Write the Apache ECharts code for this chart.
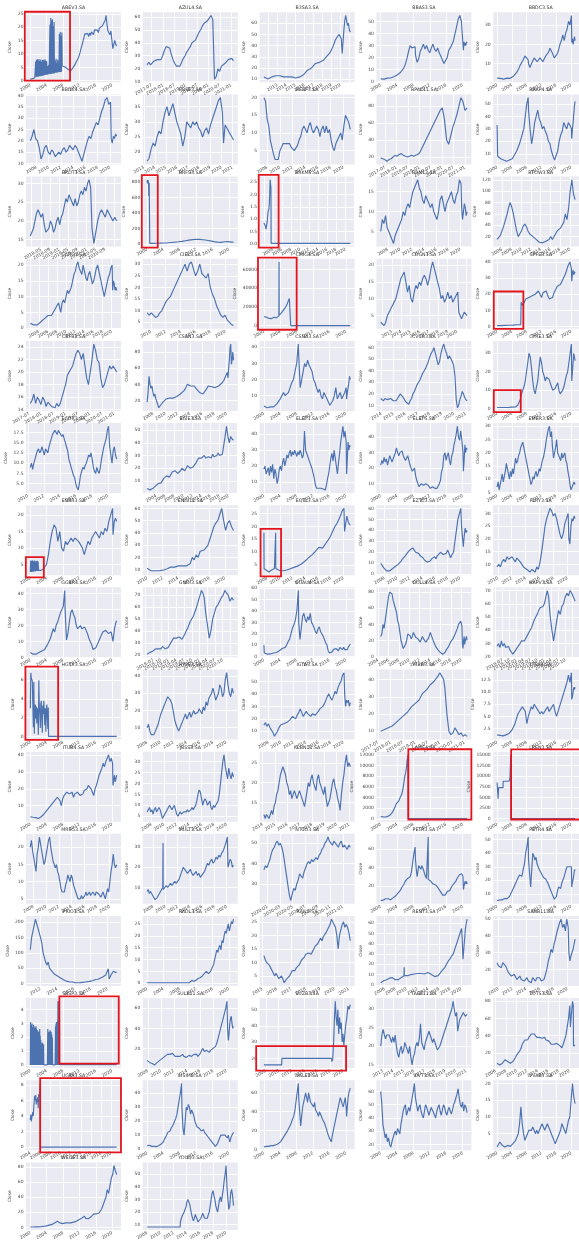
<!DOCTYPE html>
<html>
<head>
<meta charset="utf-8">
<script src="https://cdn.jsdelivr.net/npm/echarts@6/dist/echarts.min.js"></script>
<style>
  html, body { margin: 0; padding: 0; background: #ffffff; }
  #chart { width: 579px; height: 1242px; }
</style>
</head>
<body>
<div id="chart"></div>
<script>
// ---- Tickers, in panel order (5 per row) ----
const TICKERS = [
  'ABEV3','AZUL4','B3SA3','BBAS3','BBDC3',
  'BBDC4','BBSE3','BEEF3','BPAC11','BRAP4',
  'BRDT3','BRFS3','BRKM5','BRML3','BTOW3',
  'CCRO3','CIEL3','CMIG4','COGN3','CPFE3',
  'CRFB3','CSAN3','CSNA3','CVCB3','CYRE3',
  'ECOR3','EGIE3','ELET3','ELET6','EMBR3',
  'ENBR3','ENGI11','EQTL3','EZTC3','FLRY3',
  'GGBR4','GNDI3','GOAU4','GOLL4','HAPV3',
  'HGTX3','HYPE3','IGTA3','IRBR3','ITSA4',
  'ITUB4','JBSS3','KLBN11','LAME4','LREN3',
  'MRFG3','MULT3','NTCO3','PETR3','PETR4',
  'PRIO3','RADL3','RAIL3','RENT3','SANB11',
  'SBSP3','SULA11','SUZB3','TAEE11','TOTS3',
  'UGPA3','USIM5','VALE3','VIVT3','VVAR3',
  'WEGE3','YDUQ3'
];

// ---- Date tick labels ----
const TICKS_Y4 = ['2000','2004','2008','2012','2016','2020'];
const TICKS_Y2 = ['2000','2002','2004','2006','2008','2010','2012','2014','2016','2018','2020','2022'];
const TICKS_Y1 = ['2011','2012','2013','2014','2015','2016','2017','2018','2019','2020','2021'];
const TICKS_M6 = ['2017-01','2017-07','2018-01','2018-07','2019-01','2019-07','2020-01','2020-07','2021-01'];
const TICKS_M4 = ['2018-01','2018-05','2018-09','2019-01','2019-05','2019-09','2020-01','2020-05','2020-09','2021-01'];
const TICKS_M3 = ['2018-04','2018-07','2018-10','2019-01','2019-04','2019-07','2019-10','2020-01','2020-04','2020-07','2020-10','2021-01'];
const TICKS_M2 = ['2019-11','2020-01','2020-03','2020-05','2020-07','2020-09','2020-11','2021-01'];

// Date tick set used by each panel, and the step of its price ticks
const X_TICKS = [
  'Y4','M6','Y1','Y4','Y4',
  'Y2','Y1','Y2','M6','Y4',
  'M4','Y4','Y2','Y2','Y2',
  'Y2','Y2','Y4','Y1','Y4',
  'M6','Y2','Y4','Y1','Y4',
  'Y2','Y2','Y4','Y4','Y4',
  'Y4','Y2','Y2','Y2','Y2',
  'Y4','M3','Y4','Y2','M3',
  'Y4','Y2','Y2','M6','Y4',
  'Y4','Y2','Y1','Y4','Y4',
  'Y2','Y2','M2','Y4','Y4',
  'Y2','Y4','Y1','Y2','Y2',
  'Y4','Y2','Y2','Y1','Y2',
  'Y2','Y4','Y4','Y4','Y4',
  'Y4','Y2'
];
const Y_STEP = [
  5,10,10,10,10,
  5,5,5,20,10,
  5,200,0.5,5,20,
  5,5,20000,5,10,
  2,20,10,10,10,
  2.5,10,10,10,5,
  5,10,5,10,5,
  10,10,10,20,10,
  2,10,10,10,2.5,
  10,5,5,2000,2500,
  5,10,10,20,10,
  50,5,5,10,10,
  1,20,10,5,20,
  2,10,20,10,5,
  20,10
];

// ---- Close prices: segments of [start year, end year, evenly spaced closes] ----
const ABEV3 = [
  [2000.0, 2001.1, [0.6,0.7,0.7,0.8,0.9,1.0,1.1]],
  [2001.2, 2004.1, [1.3,7.2,1.4,7.8,1.5,8.0,1.5,7.6,1.6,8.1,1.7,7.4,1.7,7.9,1.8,7.0,1.9,7.7,1.9,7.8,2.0,7.5,2.1,8.0,2.1,7.6,2.2,7.3,2.2]],
  [2004.2, 2004.6, [2.3,5.5,2.4,6.0,2.4]],
  [2004.7, 2005.9, [2.5,21.0,2.5,23.5,2.6,22.5,2.6,23.0,2.7,20.5,2.7,22.0,2.8]],
  [2006.0, 2006.9, [2.9,7.5,3.0,8.2,3.0,6.5,3.1,7.8,3.2,6.0]],
  [2007.0, 2007.8, [3.2,17.5,3.3,18.2,3.3,16.8,3.4,18.0,5.5]],
  [2007.9, 2021.1, [5.4,5.5,5.2,5.0,4.7,4.5,4.2,3.9,3.6,3.5,4.2,5.0,5.5,6.2,7.0,7.6,8.3,9.2,10.5,12.0,13.2,14.6,16.0,17.5,18.2,16.8,17.6,16.5,17.9,17.0,18.3,18.0,17.2,19.0,18.4,19.3,18.9,18.0,19.6,20.0,19.2,20.5,20.0,21.2,22.5,24.4,21.0,18.6,18.1,17.2,18.6,18.9,12.0,13.6,15.1,13.6,13.0]]
];
const AZUL4 = [[2017.3, 2021.1, [23,25,23,24,26,25,27,28,27,30,34,37,38,36,31,27,24,22,23,22,25,28,30,33,35,37,40,39,42,45,48,50,53,55,54,57,59,61,58,12,14,20,18,22,21,24,25,27,26,28,26]]];
const B3SA3 = [
  [2011.5, 2020.1, [12,11,10,11,12,12,13,14,13,13,12,11,12,13,12,11,11,12,12,13,14,16,18,19,20,22,24,23,25,26,27,29,31,33,36,40,45,48,50,46]],
  [2020.2, 2021.1, [33,44,55,63,67,62,58,60,54,52]]
];
const BBAS3 = [
  [2000.0, 2008.4, [2.2,2.5,2.0,2.4,2.8,2.6,2.9,3.5,4.0,4.8,5.5,6.5,7.5,9,11,14,19,25,30,28,27,29]],
  [2008.5, 2020.1, [22,16,19,25,28,31,27,30,26,24,28,31,27,25,28,24,21,18,15,14,20,26,28,29,34,40,46,52,55,50,49]],
  [2020.2, 2021.1, [26,33,30,32,30,33,32]]
];
const BBDC3 = [
  [2000.0, 2008.4, [2.5,2.3,2.4,2.2,2.0,2.3,2.5,2.2,2.4,3.0,3.5,4.5,5.5,7,9,10,12,14,13,12]],
  [2008.5, 2020.1, [10,8,10,11,13,12,11,12,13,12,11,12,14,13,16,18,17,15,13,12,15,17,20,22,25,22,26,28,32,30,35]],
  [2020.2, 2021.1, [21,23,20,22,24,22]]
];
const BBDC4 = [
  [2007.0, 2020.1, [20,22,25,21,20,17,12,14,17,18,15,14,16,15,13,14,15,14,16,17,15,16,18,17,16,18,17,15,13,11,14,17,20,22,21,24,26,28,27,30,33,35,38,39,36,37]],
  [2020.2, 2021.1, [21,19,22,21,23,22]]
];
const BBSE3 = [
  [2013.3, 2020.1, [17,18,21,23,22,25,27,26,30,33,35,32,34,36,33,30,28,26,22,25,30,29,28,30,29,30,28,27,25,27,28,26,29,31,33,35,37,38,33]],
  [2020.2, 2021.1, [23,29,28,27,26,25,24]]
];
const BEEF3 = [[2007.5, 2021.1, [20,19,14,12,8,7.5,4,2.5,2,2.5,5,6,7,7.5,7,6.5,7,6,5.5,5,5.5,6.5,8,9,11,12,11,10,12,13,11,10,11,12,11,9,11,12,10,12,10,11,8,6,5,7,8,9,10,8,12,15,14,13,11]]];
const BPAC11 = [
  [2017.3, 2020.1, [19,18,17,15,17,18,20,22,21,23,24,22,21,20,21,22,21,22,23,25,30,35,40,45,50,55,60,65,70,75,78,65]],
  [2020.2, 2021.1, [40,35,45,55,62,70,80,90,85,75,78]]
];
const BRAP4 = [
  [2000.0, 2000.15, [33,8]],
  [2000.2, 2008.4, [7.5,7,6,5.5,5,4.5,4,4.5,5,5.5,6,8,10,12,15,18,22,26,30,40,50,55]],
  [2008.5, 2020.1, [45,30,18,25,35,40,45,38,35,30,32,28,25,20,18,12,8,5,6,12,20,25,28,35,32,30,35,33,30]],
  [2020.2, 2021.1, [22,30,35,42,48,52]]
];
const BRDT3 = [
  [2017.95, 2020.15, [16,17,18,20,22,23,22,21,22,19,17,16.5,18,20,19,17,18,20,21,19,21,22,24,26,25,27,26,25,24,26,24,25,27,28,27,29,28,30,31,29]],
  [2020.2, 2021.1, [18,14,17,20,22,23,22,21,23,22,21,20,21,20]]
];
const BRFS3 = [
  [2000.0, 2000.6, [820,790,830,810,780,825,800,760,620,700,790,810,800]],
  [2000.65, 2021.1, [5,6,6,7,7,8,9,10,11,12,13,15,17,19,21,23,26,29,32,36,40,44,48,52,55,57,59,60,58,56,53,50,46,42,38,33,28,25,22,20,19,22,26,32,28,24,22,21]]
];
const BRKM5 = [
  [2002.0, 2003.55, [0.85,0.8,0.9,0.75,0.7,0.6,0.65,0.55,0.9,1.1,1.3,1.25,1.4,1.6,2.0,2.6,2.55,2.3]],
  [2003.6, 2021.1, [0.02,0.02]]
];
const BRML3 = [
  [2006.8, 2020.1, [5,8,7,9,6,5,4,3,2,4,5,6,7,8,10,9,11,12,11,13,15,16,17,18,16,15,13,12,14,13,12,11,12,10,9,8,10,13,14,12,10,12,13,14,15,13,12,14,15,18,17]],
  [2020.2, 2021.1, [11,8,10,12,11,9,10]]
];
const BTOW3 = [[2005.0, 2021.1, [15,18,22,30,38,48,58,70,80,72,60,45,30,20,25,30,38,42,38,30,25,22,20,18,15,12,10,8,9,10,12,10,15,20,15,18,25,30,28,35,40,45,60,50,70,100,120,95,85]]];
const CCRO3 = [
  [2002.1, 2008.7, [1.5,1.2,1.0,0.8,1.0,1.5,2,2.5,3,3.5,4,3.5,4,5,6,7,8,7.5]],
  [2008.8, 2020.1, [5,8,9,8,10,12,11,12,13,15,17,18,20,21,19,18,17,20,18,16,15,17,18,16,14,15,17,19,20,18,16,14,12,10,12,14,16,17,19,20]],
  [2020.2, 2021.1, [12,15,14,12,13,12]]
];
const CIEL3 = [[2009.5, 2021.1, [9,8,9,8,7,7.5,9,10,12,14,15,16,18,20,22,24,26,28,30,27,30,31,28,25,27,30,26,25,24,26,20,17,15,12,10,8,7,8,6,5,4,3.5]]];
const CMIG4 = [
  [2000.0, 2003.65, [9500,9000,8500,9200,8000,8700,7800,8200,8800,7500,8000,8500,9000,8200,7600,8300,8900,9500,10500]],
  [2003.7, 2003.72, [68000,11000]],
  [2003.75, 2006.5, [11000,12500,13000,12000,14000,15000,14500,16000,17500,17000,19000,20000,21000,22500,24000,26000,27500,29000,30500,28000]],
  [2006.55, 2021.1, [150,150]]
];
const COGN3 = [
  [2011.8, 2020.1, [3,2.5,2,3,5,6,7,8,9,10,12,14,16,17,18,15,12,14,10,9,12,14,13,15,14,16,17,16,14,16,19,21,19,17,15,13,10,11,9,10,12,10,11,9,10,11,12]],
  [2020.2, 2021.1, [6,5,4,5,6,5.5,5]]
];
const CPFE3 = [
  [2000.0, 2006.4, [0.6,0.7,0.6,0.8,0.7,0.9,0.8,1.0,0.9,1.0,1.1,1.0,1.2]],
  [2006.5, 2020.1, [15,13,15,17,16,18,17,19,18,20,19,22,20,18,21,20,22,19,17,16,18,21,23,25,24,26,28,27,32,35,38,40,36]],
  [2020.2, 2021.1, [28,33,35,32,34,33]]
];
const CRFB3 = [[2017.55, 2021.1, [15,15.5,16.5,15,16,15.5,14.8,16,15.5,14.5,15.2,15,14.5,14.8,14.3,15,14.5,15,16,17,18,19.5,20,20.5,21,22,23,23.5,23,22,23,21,19,18,20,22,24.5,23.5,22,21.5,19,17.5,18,19,20,21,20.5,21,20.5,20]]];
const CSAN3 = [
  [2007.0, 2008.9, [18,30,50,40,35,38,30,25,28,22,20,15,11]],
  [2009.0, 2020.1, [13,15,18,20,22,21,23,25,23,22,25,24,28,30,32,35,40,42,38,36,38,35,33,30,32,28,30,34,38,40,37,38,36,35,38,40,42,45,50,55]],
  [2020.2, 2021.1, [48,60,70,85,90,65,70,80,70]]
];
const CSNA3 = [
  [2000.0, 2008.4, [3.5,3,2.5,2.5,3,2.8,3,4,5,6,8,10,12,10,11,12,15,18,20,25,30,42]],
  [2008.5, 2020.1, [35,15,20,25,30,28,32,29,30,25,20,18,15,12,14,10,8,12,10,8,6,4,5,7,10,15,8,10,12,8,10,12,15]],
  [2020.2, 2021.1, [8,12,15,18,22,20]]
];
const CVCB3 = [
  [2013.95, 2020.1, [16,15,14,16,17,15,14,16,15,14,15,14,16,18,20,19,17,15,13,12,11,14,16,20,22,25,28,30,32,35,38,40,42,45,48,52,55,57,60,55,50,45,48,55,60,63,58,55,50,53,52,48,45,35]],
  [2020.2, 2021.1, [15,8,10,15,18,22,20,17,15,14]]
];
const CYRE3 = [
  [2000.0, 2005.5, [0.6,0.5,0.6,0.7,0.6,0.5,0.6,0.7,0.8,0.7,0.9,1.0]],
  [2005.6, 2020.1, [2,3,5,8,9,12,15,20,25,30,28,22,15,10,8,12,15,22,28,25,20,18,15,17,18,16,14,12,10,9,11,12,14,10,8,9,10,12,15,18,20,25,30,35]],
  [2020.2, 2021.1, [15,20,25,30,28,26]]
];
const ECOR3 = [[2010.3, 2021.1, [9,10,8.5,10,11,12,13,13.5,12.5,13,14,13,12,13.5,13,12.5,14,15,16,17,17.5,18,17.5,17,18,17.5,17,16.5,17,16,15,14,13,11,10,9,8,7,6.5,5,4,3.5,5,7,8,9,8.5,9.5,10,11,12,11.5,12.5,11,9,8,7.5,9,8,7.5,9,11,12.5,14,15,16,18,19,14,12,10,13,14,12,11]]];
const EGIE3 = [[2002.0, 2021.1, [4,3.5,3,3,4,5,6,7,8,9,8.5,10,12,13,14,15,13,14,17,16,18,17,16,15,18,20,19,18,20,22,21,20,19,21,22,24,26,28,27,28,29,30,28,27,29,30,28,31,29,28,30,32,30,29,31,38,45,53,45,40,45,43,42]]];
const ELET3 = [
  [2000.0, 2020.1, [18,20,15,17,19,14,20,16,21,12,18,15,9,12,18,20,17,22,25,20,23,27,25,28,30,26,29,27,30,28,26,29,27,30,28,25,27,42,30,28,26,24,22,20,18,15,12,8,6,5.5,6,5,6,7,5.5,6.5,5,8,12,15,20,25,28,23,30,25,20,15,22,28,35,40,45,38,42,35]],
  [2020.2, 2021.1, [15,25,35,30,33,32]]
];
const ELET6 = [
  [2000.0, 2020.1, [22,25,23,27,24,26,22,25,28,26,24,25,28,30,33,30,28,30,29,31,28,27,25,26,28,25,22,20,18,17,20,15,12,10,8,9,10,11,9,8,10,11,9,8,7,6,8,9,7,8,7,8,10,12,18,20,28,30,25,28,30,25,22,28,30,35,38,42,47,40,38,44,38,30]],
  [2020.2, 2021.1, [18,25,35,30,33,32]]
];
const EMBR3 = [[2000.0, 2021.1, [7,9,6,8,10,12,9,11,13,16,14,12,10,13,11,14,12,15,18,16,17,19,20,22,23,24,22,20,18,16,14,12,10,8,9,11,10,12,13,11,12,14,13,15,17,18,20,22,25,27,29,30,26,28,22,18,20,22,25,20,19,18,17,20,18,19,20,17,16,13,11,8,6,7,8,9,8]]];
const ENBR3 = [
  [2000.0, 2002.0, [2.7,6.2,2.8,6.0,2.7,6.3,2.9,5.9,2.8,6.1,3.0,6.2,2.9,5.8,3.0,6.0,3.1,6.1,3.0,5.9,3.2]],
  [2002.1, 2003.4, [3.3,3.5,3.2,3.4,3.6,3.5]],
  [2003.5, 2020.1, [4,5,8,12,15,17,16,12,15,10,9,12,11,12,13,12,13,12.5,12,11,10,8,10,12,11,13,14,15,14,13,15,14,16,15,18,20,22]],
  [2020.2, 2021.1, [14,18,19,18]]
];
const ENGI11 = [[2010.0, 2021.1, [11,10,9,8.5,9,8,9,10,9.5,10,10.5,11,12,11,12,11.5,13,12,13,12,13,14,15,20,18,22,20,25,24,26,28,30,35,40,45,48,50,55,60,50,42,48,50,45,42]]];
const EQTL3 = [
  [2007.5, 2007.52, [17.5,3.5]],
  [2007.55, 2009.3, [3.5,3.2,3.0,2.6,2.3,2.2,2.5,2.8,3.0,3.3,3.5,3.6,3.8]],
  [2009.35, 2009.37, [17.5,3.6]],
  [2009.4, 2020.1, [3.5,3.2,2.8,2.6,2.7,2.9,3.0,3.2,3.5,3.7,4.0,4.2,4.5,4.8,5.2,5.8,6.3,7.0,7.6,8.2,8.8,9.5,10.2,11.0,11.8,12.3,11.5,12.5,13.5,14.2,15.5,17,18.5,20,21,22.5,24,26,27]],
  [2020.2, 2021.1, [18,21,24,22,21,20.5]]
];
const EZTC3 = [
  [2007.4, 2020.1, [10,8,6,5,3,2,3,4,5,6,7,8,9,10,12,14,15,17,19,20,22,21,24,22,20,21,19,17,16,15,13,12,11,10,12,14,13,16,14,17,18,20,19,18,17,19,22,21,15,18,20,30,40,50,55,60]],
  [2020.2, 2021.1, [45,35,25,35,42,38,40]]
];
const FLRY3 = [
  [2009.9, 2020.1, [9,10,9,11,12,11,13,12,11.5,13,12,11,12.5,12,11,10,9,8.5,8,7.5,7,8,7.5,7,9,8,11,15,20,25,28,30,32,31,29,30,28,25,22,20,22,26,28,30]],
  [2020.2, 2021.1, [20,18,25,28,27,29,28]]
];
const GGBR4 = [
  [2000.0, 2008.4, [3,2.5,2,2.5,2,2.2,3,3.5,4,4.5,5,6,8,10,12,15,18,16,20,22,25,28,30,32,42]],
  [2008.5, 2020.1, [30,11,15,22,28,30,27,25,20,18,17,20,18,17,19,18,15,12,10,8,5,4,6,8,10,12,14,16,15,17,16,15,14,16,17]],
  [2020.2, 2021.1, [10,14,18,20,22,23]]
];
const GNDI3 = [
  [2018.3, 2020.15, [20.5,21,22,21.5,23,24,25,24,25,26,25,27,26,25,24,26,28,30,32,34,33,34,33,35,34,33,35,37,40,42,45,48,50,52,55,58,62,66,70,74,72,68]],
  [2020.2, 2021.1, [55,45,34,40,50,55,60,62,65,68,70,74,72,70,65,68,66]]
];
const GOAU4 = [
  [2000.0, 2000.1, [10,3]],
  [2000.2, 2008.4, [3,2.5,2,2,2.2,2.5,3,3.2,3.5,4,5,6,7,6,8,10,13,15,20,25,28,32,40,58]],
  [2008.5, 2020.1, [30,15,25,35,38,33,30,35,32,38,30,28,25,22,20,24,26,22,20,18,15,12,10,5,3,2,4,6,5,7,6,5,8,7,6,8,6,7]],
  [2020.2, 2021.1, [5,6,8,9,8,11]]
];
const GOLL4 = [
  [2004.5, 2020.1, [25,28,40,35,45,55,65,75,80,82,78,70,72,60,55,45,40,30,20,15,10,12,15,20,28,30,26,22,25,30,28,24,26,22,20,18,20,25,22,20,18,20,22,25,30,28,22,18,15,12,10,8,6,5,4,3,4,5,8,10,12,15,18,20,22,25,28,30,35,40,42,44,38]],
  [2020.2, 2021.1, [15,10,20,25,15,20,22,25,20]]
];
const HAPV3 = [
  [2018.3, 2020.1, [28,30,27,32,28,30,27,26,28,25,24,22,23,25,27,28,30,32,33,32,34,36,38,40,42,45,48,50,52,55,57,56,58,60,65,70]],
  [2020.15, 2021.1, [65,50,40,32,40,48,55,52,58,60,65,68,66,70,68,65,62]]
];
const HGTX3 = [
  [2000.0, 2004.4, [3,6.8,6.2,6.3,5.9,6.1,1.0,5.8,0.3,2.8,3.4,1.9,3.2,1.4,3.0,2.6,0.2,6.0,3.2,2.4,0.9,3.5,3.8,1.8,0.4,3.3,2.4,3.8,3.6,1.2,3.0,0.5,2.7,3.4,2.2,0.8,3.1]],
  [2004.45, 2021.1, [0.02,0.02]]
];
const HYPE3 = [[2008.0, 2021.1, [10,12,8,6,5,6,8,10,12,15,18,20,22,24,25,28,29,26,24,20,15,12,10,8,10,12,14,16,18,15,17,19,16,18,20,18,17,19,21,20,18,22,20,25,23,27,28,30,33,30,26,28,30,35,33,28,30,38,42,35,30,28,33,30]]];
const IGTA3 = [
  [2007.3, 2020.1, [15,17,14,16,13,11,9,6,8,10,13,15,14,16,15,17,18,19,20,22,21,20,23,25,28,25,22,24,26,24,23,22,24,25,23,24,26,28,27,30,32,35,38,40,37,35,38,42,40,45,48,50,55,57]],
  [2020.2, 2021.1, [40,30,35,33,35,30,33]]
];
const IRBR3 = [
  [2017.6, 2020.15, [10,10.5,11,11.5,12,12.5,13,14,15,16,17,18,19,20,21,22,24,25,26,27,28,30,32,33,34,35,37,38,39,40,42,44,42,40]],
  [2020.2, 2021.1, [35,20,10,8,9,12,10,8,9,7,8,7]]
];
const ITSA4 = [
  [2000.0, 2020.1, [1.2,1.0,1.1,0.9,1.0,1.1,1.2,1.3,1.5,1.8,2.2,2.8,3.5,4.5,5.5,6,6.5,7,6.5,6,3.5,5,6,7,6.5,7.5,7,6.5,6,5.5,6,5.5,6,6.5,7,6,6.5,7,7.5,6,5,6,7,8,9,10,11,12,13.5,12,14]],
  [2020.2, 2021.1, [8.5,9,10,11,10.5,11]]
];
const ITUB4 = [
  [2000.0, 2020.1, [3.5,3,3.2,3.5,3,2.8,2.5,3,3.5,4,5,6,7,8,9,10,11,12,13,14,15,16,13,10,14,16,17,18,19,17,16,18,15,17,16,18,17,16,15,17,19,18,20,22,21,20,18,16,20,22,25,28,30,32,35,33,36,38,40,36,38,35]],
  [2020.2, 2021.1, [22,25,28,24,26,28]]
];
const JBSS3 = [[2007.3, 2021.1, [7,8,9,7,8,6,8,9,7,8,9,8,6,4,5,6,7,8,9,10,9,8,9,10,8,6,5,6,7,6,6.5,7,6.5,7,8,7,7.5,8,9,8,8.5,10,12,15,17,16,13,10,12,13,12,10,11,12,9,8,10,9,10,11,12,15,20,25,30,33,28,25,22,27,24,22,25,23]]];
const KLBN11 = [[2014.1, 2021.1, [12,11,12,11.5,11,12,13,12,14,15,17,18,20,22,23,24,23,22,20,19,17,18,16,17,18,17,16,17,18,17,16,15,14,16,18,20,19,21,22,20,19,18,21,22,20,19,18,17,19,16,14,15,16,18,20,21,19,18,16,15,13,17,20,22,25,27,24,25,24]]];
const LAME4 = [
  [2000.0, 2006.65, [420,400,380,350,320,300,330,360,400,450,520,600,700,850,1000,1200,1500,1800,2000,2400,2800,3100,2900,3300,3600,4000,3800,4600,5200,6000,7000,8000,8600,9500,11000,12000]],
  [2006.7, 2021.1, [60,60]]
];
const LREN3 = [
  [2000.0, 2000.4, [8500,8200,4700,7300]],
  [2000.45, 2001.6, [7300,7300]],
  [2001.65, 2003.2, [8800,8800]],
  [2003.25, 2003.7, [9200,9500,15000]],
  [2003.75, 2021.1, [60,60]]
];
const MRFG3 = [[2007.5, 2021.1, [20,22,19,17,15,13,18,20,23,21,19,17,15,16,18,20,22,23,20,18,16,15,14,15,13,12,10,8,7,6.5,7,9,10,12,11,10,12,11,9,8,7,6,5,4.5,5,6,5,5.5,6,7,6,6.5,7,6,6.5,7,6.5,6,7,7.5,6.5,6,5.5,6,7,6,5,6.5,8,7,10,13,15,18,15,14,15]]];
const MULT3 = [
  [2007.0, 2009.55, [8,9,7,8,7,6,5,4,3.5,5,6,7,8,9,10]],
  [2009.6, 2009.62, [32,10]],
  [2009.65, 2020.1, [9,10,11,10,11,12,11,12,13,12,13,14,16,18,20,19,18,17,18,19,17,16,17,18,16,17,15,16,17,18,20,22,21,23,24,22,23,25,24,26,25,27,28,30,32,35]],
  [2020.2, 2021.1, [20,22,24,23,20,21]]
];
const NTCO3 = [[2019.95, 2021.1, [37,39,38,40,42,45,47,48,50,51,49,50,48,45,40,35,30,25,22,25,28,27,30,32,35,34,33,36,38,40,41,40,42,41,42,43,42,44,45,47,48,50,51,53,51,50,49,51,50,49,48,50,51,48,49,48,47,49,48]]];
const PETR3 = [
  [2000.0, 2008.4, [4,5,4.5,5,6,5.5,6,5.5,5,6,7,8,9,10,12,14,15,18,20,22,25,24,28,26,30,35,45,55,62]],
  [2008.5, 2011.55, [48,38,30,35,42,44,40,38,42,40,38,35,32,30,28,30,27]],
  [2011.6, 2011.62, [73,27]],
  [2011.65, 2020.1, [28,27,25,24,22,23,21,20,18,16,14,12,10,8,10,12,14,16,15,18,20,22,24,25,28,30,32,31,33,30]],
  [2020.2, 2021.1, [16,18,22,25,24,22,25,22]]
];
const PETR4 = [
  [2000.0, 2008.4, [5,6,5.5,6,5.5,6,6.5,6,6.5,7,8,10,12,14,16,18,20,22,24,25,23,28,32,40,45,52]],
  [2008.5, 2020.1, [35,25,15,28,40,38,35,37,32,30,28,27,25,24,22,23,21,20,18,16,14,12,10,8,6,5,8,12,15,16,14,18,20,22,25,28,30,29,30,31,30]],
  [2020.2, 2021.1, [15,18,20,22,25,28,27]]
];
const PRIO3 = [
  [2010.8, 2020.1, [110,150,170,190,210,195,180,165,150,130,100,85,70,60,70,50,45,40,35,30,28,25,22,20,18,15,12,10,8,7,6,5,6,5,4,3,3,2.5,2.5,3,3,4,4.5,5,5.5,6,7,8,9,10,12,13,15,14,16,18,20,22,25,28,32,48]],
  [2020.2, 2021.1, [15,22,30,35,40,38,36,38]]
];
const RADL3 = [
  [2000.0, 2010.3, [0.2,0.2]],
  [2010.4, 2021.1, [0.5,1.0,1.2,1.0,0.8,1.0,1.2,1.5,2.0,2.5,2.3,2.8,3.0,3.5,4.0,4.5,5.0,4.5,4.0,4.2,5.0,6.0,7.0,8.0,10,12,14,13,15,16,14,18,17,20,22,21,23,25,22,24,26,25,27]]
];
const RAIL3 = [[2015.1, 2021.1, [12.5,11,10,10.5,9,8,7,6.5,5,6,5,4,3.5,5,4,2.5,3,4,4.5,5,6,7,7.5,7,8,8.5,9,10,11,11.5,12,13,12.5,13.5,14,13,14,15,16,15.5,17,18,19,18,19.5,20,21,22,23,24,26,25,24,23,20,15,20,22,24,25,23,24,23,21,18]]];
const RENT3 = [
  [2005.3, 2009.55, [2,3,4,4.5,5,6,6.5,7,7,6,5,4,5,6,7,8,8.5]],
  [2009.6, 2009.62, [17,9]],
  [2009.65, 2020.1, [9,8,9,9.5,10,10,10.5,11,11,10.5,11,11,10.5,11,12,11,10,9,8,7.5,9,11,13,15,17,20,23,25,28,30,35,40,45,50,55]],
  [2020.2, 2021.1, [45,25,35,45,55,60,64]]
];
const SANB11 = [
  [2009.8, 2020.1, [24,22,23,21,24,25,22,20,18,17,16,15,17,16,14,15,16,14,15,13,14,15,13,14,12,15,14,13,15,16,15,13,12,14,17,20,25,28,32,30,35,38,42,45,48,50,45,47,43,50,45]],
  [2020.2, 2021.1, [30,25,28,30,32,35,38]]
];
const SBSP3 = [
  [2000.0, 2001.4, [0,3.1,0,2.9,0,2.8,0,3.0,0,2.7,0,2.6,0,2.9,0,2.8,0,2.5,0,2.7,0,2.6,0,2.8]],
  [2001.45, 2002.75, [0,2.6,0,2.3,0,2.5,0,2.2,0,2.4,0,2.0,0,2.6,0,2.1,0,1.8,0,1.6,0]],
  [2002.8, 2003.3, [0,1.3,0,1.6,0,1.4,0,1.5,0]],
  [2003.35, 2004.15, [0,0]],
  [2004.2, 2005.45, [0,2.6,0,2.3,0,2.4,0,2.2,0,2.5,0,2.3,0,2.4,0,2.2,0,2.0,0]],
  [2005.5, 2006.05, [0,0]],
  [2006.1, 2006.65, [0,2.8,0,3.0,0,3.1,0,2.9,0,3.2]],
  [2006.7, 2007.1, [0,4.6,0,4.6,0,4.5,0,4.6,0,4.6]],
  [2007.15, 2021.1, [0.02,0.02]]
];
const SULA11 = [
  [2007.9, 2020.1, [8,7,6,7.5,5,4,3.5,5,6,7,8,9,10,11,12,13,14,15,14,13,15,14,12,13,12,11,12,13,14,12,13,11,12,13,14,12,13,14,15,14,12,13,15,18,20,17,16,18,17,16,18,19,20,21,22,25,30,35,40,45,50,55,60,67]],
  [2020.2, 2021.1, [40,28,35,45,50,52,45,40,42]]
];
const SUZB3 = [
  [2007.7, 2010.45, [16,16]],
  [2010.5, 2018.2, [20,20]],
  [2018.25, 2020.1, [18,20,30,45,55,45,40,50,35,45,38,42,30,35,28]],
  [2020.2, 2021.1, [27,40,45,52,50,53]]
];
const TAEE11 = [
  [2012.8, 2020.1, [20,23,24.5,23,22,23,22.5,23,22,21,22.5,21,23,20,18,17,19,20,18,19,21,20,19,18,20,17,15,17,18,20,21,20,22,26,21,20,19,21,22,23,24,23,22,21,22,21,20,19,18.5,20,21,22,23,24,25,26,27,28,29,30,32,30,28,29]],
  [2020.2, 2021.1, [24,27,28,29,28,28.5]]
];
const TOTS3 = [
  [2006.3, 2020.1, [8,7,6,7,8,10,12,11,10,9,8,7,10,12,15,18,20,22,25,30,32,35,33,35,38,40,42,44,42,40,38,36,38,40,37,36,38,35,33,34,32,30,28,30,32,31,30,29,28,26,30,35,40,50,60,75]],
  [2020.2, 2020.75, [50,60,70,80,75]],
  [2020.8, 2021.1, [28,30,27,29]]
];
const UGPA3 = [
  [2004.0, 2005.95, [3.5,4.2,3.3,3.8,4.0,4.5,4.0,5.2,6.0,6.6,6.0,6.7,5.5,6.2,5.8,6.4,5.0,6.8,7.0,6.5,8.2]],
  [2006.0, 2021.1, [0.02,0.02]]
];
const USIM5 = [
  [2000.0, 2008.4, [2.5,3,2.8,2.5,2,2.2,2,1.5,1.8,2,2.5,3,3.5,4,5,7,8,10,12,11,13,15,14,18,20,22,25,30,35,40,47]],
  [2008.5, 2020.1, [30,15,10,20,30,28,32,30,25,28,26,24,20,18,16,17,15,14,13,12,14,12,11,10,9,8,7,6,5,4,3,2,3,4,6,8,10,9,10,11,10,9,8,10,11]],
  [2020.2, 2021.1, [5,7,9,10,11,12]]
];
const VALE3 = [
  [2000.0, 2008.4, [2.5,3,3.2,3.5,3.2,3.5,4,3.5,4,4.5,5,5.5,6,7,8,10,12,14,16,18,20,22,25,28,30,35,40,50,60,70]],
  [2008.5, 2020.1, [55,40,25,35,45,50,55,60,55,50,60,55,50,52,48,45,50,42,40,38,35,40,38,35,32,30,28,25,22,18,15,12,10,8,15,20,25,30,35,40,45,50,55,52,48,45,50,55,45]],
  [2020.2, 2021.1, [35,45,55,60,62,65]]
];
const VIVT3 = [[2000.0, 2021.1, [60,50,35,30,25,28,22,25,20,18,22,25,28,30,27,32,30,28,35,40,45,48,50,42,45,48,45,50,55,60,66,55,50,45,48,50,45,42,40,45,50,48,45,42,45,48,46,44,42,40,45,48,50,45,42,46,50,48,44,42,46,48,45,43,46,50,52,55,58,62,55,50,48,52,45,50,48,44]]];
const VVAR3 = [[2000.0, 2021.1, [1,1.2,2.5,2,1.5,1.2,1.0,1.2,1.5,1.0,1.2,1.5,2,2.2,3,4,5,8,13,8,5,3,4,5,6,5.5,6,7,6,5,6,5,6,7,8,7,6,7,8,7,6,5,4,3,2,3,4,5,6,8,7,6,5,7,9,10,15,20,16,14]]];
const WEGE3 = [[2000.0, 2021.1, [0.5,0.6,0.5,0.6,0.7,0.8,0.8,0.9,1.0,1.2,1.5,1.8,2,2.5,3,3.5,4,5,6,7,8,7,6,4,5,5,6,6.5,6,5.5,6,6.5,7,7.5,8,9,10,11,12,14,15,12,11,11.5,12,14,16,18,17,18,20,19,21,25,30,35,40,50,45,55,65,70,82,75,70]]];
const YDUQ3 = [
  [2008.0, 2013.0, [8,8]],
  [2013.05, 2021.1, [12,15,17,18,20,22,24,28,30,28,26,22,18,15,13,15,18,16,14,12,11,13,15,17,19,18,15,14,16,15,18,20,25,30,35,37,33,30,25,22,20,25,30,32,28,33,38,45,50,57,40,30,22,25,35,38,33,25]]
];

// Highlight boxes: ticker, date from, date to, close from, close to
const BOXES = [
  ['ABEV3', 1998.65, 2009.7, 0.05, 25.8],
  ['BRFS3', 1998.7, 2002.6, -50, 890],
  ['BRKM5', 2000.85, 2005.25, -0.15, 2.8],
  ['CMIG4', 1998.55, 2008.0, -4300, 72500],
  ['CPFE3', 1999.1, 2007.1, -1.5, 21.7],
  ['CYRE3', 1999.1, 2006.4, -1.9, 10],
  ['ENBR3', 1998.9, 2003.3, 1.1, 7.2],
  ['EQTL3', 2006.97, 2010.2, 0.5, 19],
  ['HGTX3', 1998.8, 2006.8, -0.35, 7.45],
  ['LAME4', 2006.75, 2022.15, -150, 13050],
  ['LREN3', 2003.8, 2030, -185, 16300],
  ['SBSP3', 2007.1, 2021.6, 0.1, 4.95],
  ['SUZB3', 2006.5, 2020.45, 12.5, 27.5],
  ['UGPA3', 2005.95, 2021.95, -0.65, 8.87]
];

const SERIES = {
  ABEV3, AZUL4, B3SA3, BBAS3, BBDC3, BBDC4, BBSE3, BEEF3, BPAC11, BRAP4,
  BRDT3, BRFS3, BRKM5, BRML3, BTOW3, CCRO3, CIEL3, CMIG4, COGN3, CPFE3,
  CRFB3, CSAN3, CSNA3, CVCB3, CYRE3, ECOR3, EGIE3, ELET3, ELET6, EMBR3,
  ENBR3, ENGI11, EQTL3, EZTC3, FLRY3, GGBR4, GNDI3, GOAU4, GOLL4, HAPV3,
  HGTX3, HYPE3, IGTA3, IRBR3, ITSA4, ITUB4, JBSS3, KLBN11, LAME4, LREN3,
  MRFG3, MULT3, NTCO3, PETR3, PETR4, PRIO3, RADL3, RAIL3, RENT3, SANB11,
  SBSP3, SULA11, SUZB3, TAEE11, TOTS3, UGPA3, USIM5, VALE3, VIVT3, VVAR3,
  WEGE3, YDUQ3
};
const TICK_SETS = { Y4: TICKS_Y4, Y2: TICKS_Y2, Y1: TICKS_Y1, M6: TICKS_M6, M4: TICKS_M4, M3: TICKS_M3, M2: TICKS_M2 };

// ---- Layout of the 5-column grid of small panels ----
const COL_X0 = 26, COL_DX = 116.8, PLOT_W = 95;
const ROW_Y0 = 12.3, ROW_DY = 82.15, PLOT_H = 70;
const FONT = 'DejaVu Sans';
const TICK_FONT = 4.5;

function toYear(label) {
  const parts = label.split('-');
  return +parts[0] + (parts[1] ? (+parts[1] - 1) / 12 : 0);
}
function buildPoints(segs) {
  const pts = [];
  segs.forEach(([a, b, vals]) => {
    const n = vals.length;
    vals.forEach((v, i) => pts.push([n > 1 ? a + (b - a) * i / (n - 1) : a, v]));
  });
  return pts;
}
function decimalsOf(step) {
  const s = String(step);
  return s.includes('.') ? s.split('.')[1].length : 0;
}
function textWidth(str) {
  let w = 0;
  for (const ch of str) w += (ch === '.' ? 0.318 : ch === '-' ? 0.361 : 0.636);
  return w * TICK_FONT;
}

const chart = echarts.init(document.getElementById('chart'), null, { renderer: 'canvas', width: 579, height: 1242 });

const grids = [], xAxes = [], yAxes = [], series = [], panelBoxes = [];

TICKERS.forEach((name, i) => {
  const c = i % 5, r = Math.floor(i / 5);
  const left = COL_X0 + c * COL_DX, top = ROW_Y0 + r * ROW_DY;
  panelBoxes.push({ left, top });

  const pts = buildPoints(SERIES[name]);
  const xs = pts.map(p => p[0]), ys = pts.map(p => p[1]);
  const x0 = Math.min(...xs), x1 = Math.max(...xs);
  const y0 = Math.min(...ys), y1 = Math.max(...ys);
  const xLo = x0 - 0.05 * (x1 - x0), xHi = x1 + 0.05 * (x1 - x0);
  const yLo = y0 - 0.05 * (y1 - y0), yHi = y1 + 0.05 * (y1 - y0);

  const labelOf = {};
  const xTickVals = [];
  TICK_SETS[X_TICKS[i]].forEach(l => {
    const v = toYear(l);
    if (v >= xLo && v <= xHi) { xTickVals.push(v); labelOf[v.toFixed(4)] = l; }
  });

  const step = Y_STEP[i], dec = decimalsOf(step);
  const yTickVals = [];
  for (let k = Math.ceil(yLo / step); k * step <= yHi + 1e-9; k++) yTickVals.push(+(k * step).toFixed(6));
  const maxLabelW = Math.max(...yTickVals.map(v => textWidth(v.toFixed(dec))));

  grids.push({
    left, top, width: PLOT_W, height: PLOT_H,
    show: true, backgroundColor: '#EAEAF2', borderWidth: 0, containLabel: false
  });
  xAxes.push({
    type: 'value', gridIndex: i, min: xLo, max: xHi,
    axisLine: { show: false },
    axisTick: { show: false, customValues: xTickVals },
    splitLine: { show: true, lineStyle: { color: '#ffffff', width: 0.9 } },
    axisLabel: {
      customValues: xTickVals, rotate: 30, margin: 2.5,
      fontSize: TICK_FONT, color: '#474747', fontFamily: FONT,
      formatter: v => labelOf[(+v).toFixed(4)] || ''
    }
  });
  yAxes.push({
    type: 'value', gridIndex: i, min: yLo, max: yHi,
    name: 'Close', nameLocation: 'middle', nameRotate: 90,
    nameGap: 2.5 + maxLabelW + 5.5,
    nameTextStyle: { fontSize: 4.3, color: '#474747', fontFamily: FONT },
    axisLine: { show: false },
    axisTick: { show: false, customValues: yTickVals },
    splitLine: { show: true, lineStyle: { color: '#ffffff', width: 0.9 } },
    axisLabel: {
      customValues: yTickVals, margin: 2.5,
      fontSize: TICK_FONT, color: '#474747', fontFamily: FONT,
      formatter: v => (+v).toFixed(dec)
    }
  });
  series.push({
    type: 'line', xAxisIndex: i, yAxisIndex: i, data: pts,
    showSymbol: false, symbol: 'none', silent: true, clip: true,
    lineStyle: { color: '#4C72B0', width: 1.15 }, z: 2
  });
});

chart.setOption({
  animation: false,
  backgroundColor: '#ffffff',
  textStyle: { fontFamily: FONT },
  grid: grids, xAxis: xAxes, yAxis: yAxes, series
});

// Panel titles and highlight boxes
const elements = [];
TICKERS.forEach((name, i) => {
  const { left, top } = panelBoxes[i];
  elements.push({
    type: 'text', silent: true, z: 50,
    x: left + PLOT_W / 2, y: top - 1.8,
    style: { text: name + '.SA', font: '4.7px "DejaVu Sans"', fill: '#333333', textAlign: 'center', textVerticalAlign: 'bottom' }
  });
});
BOXES.forEach(([name, t0, t1, v0, v1]) => {
  const gi = TICKERS.indexOf(name);
  const p0 = chart.convertToPixel({ gridIndex: gi }, [t0, v1]);
  const p1 = chart.convertToPixel({ gridIndex: gi }, [t1, v0]);
  elements.push({
    type: 'rect', silent: true, z: 100,
    shape: { x: p0[0], y: p0[1], width: p1[0] - p0[0], height: p1[1] - p0[1] },
    style: { fill: 'none', stroke: '#E3141C', lineWidth: 1.8 }
  });
});
chart.setOption({ graphic: { elements } });
</script>
</body>
</html>
